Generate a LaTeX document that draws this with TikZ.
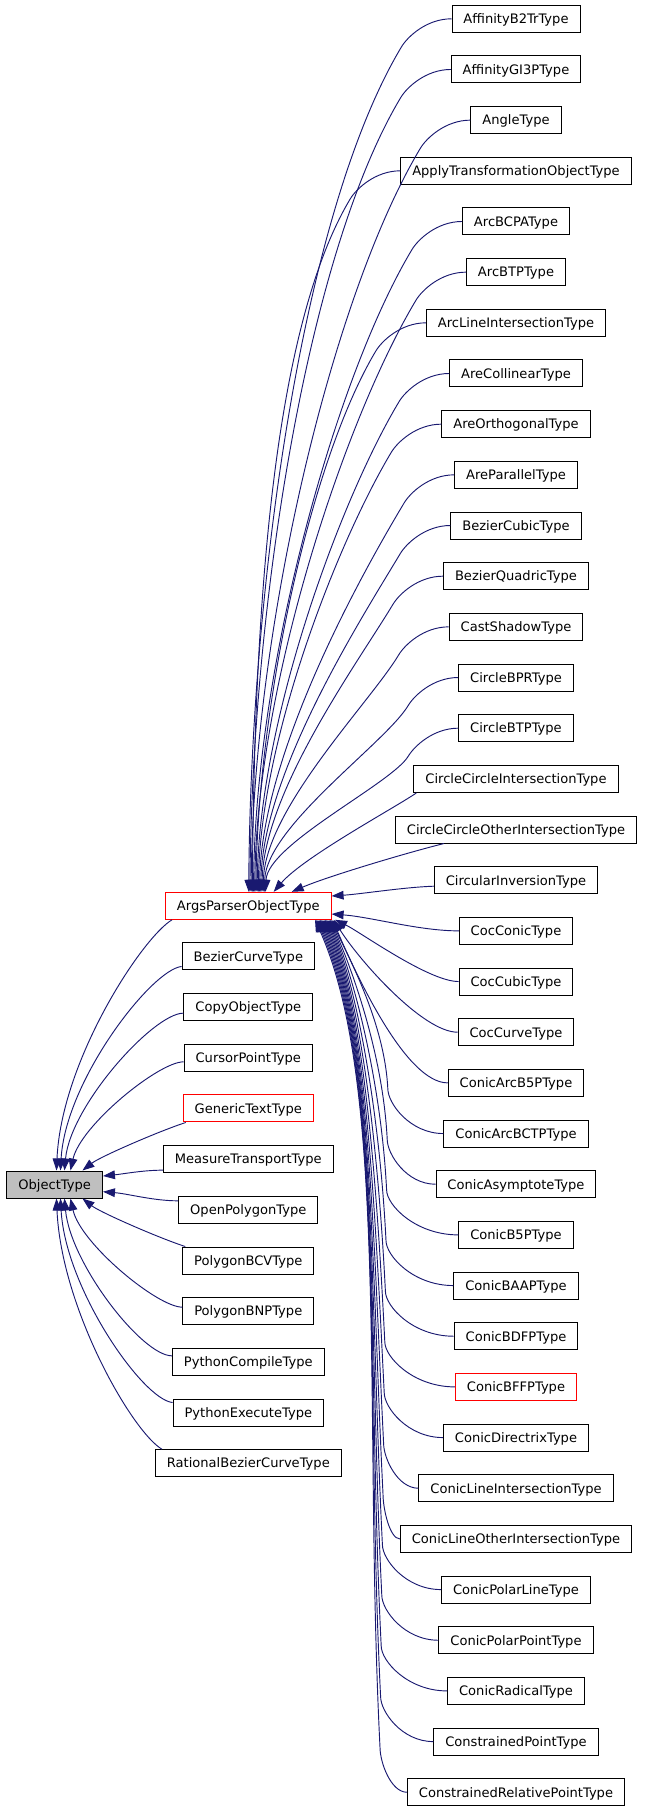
\documentclass[tikz,border=0pt]{standalone}
\usepackage{fontspec}
\setmainfont{DejaVu Sans}
\usetikzlibrary{calc,arrows.meta}
\definecolor{edgeblue}{HTML}{191970}
\definecolor{boxgray}{HTML}{BFBFBF}
\begin{document}
\begin{tikzpicture}[x=0.75pt,y=-0.75pt,
  box/.style={draw=#1,line width=0.75pt,minimum height=20.25pt,inner xsep=8.6pt,inner ysep=0pt,
    font=\fontsize{9.8}{11}\selectfont,text height=7.2pt,text depth=0pt},
  box/.default=black,
  edge/.style={draw=edgeblue,line width=0.7pt,-{Triangle[length=9pt,width=6.5pt]}}]
\useasboundingbox (0,0) rectangle (645,1811);

% right column
\foreach \nm/\txt/\col [count=\i from 0] in {
 affb2tr/AffinityB2TrType/black, affgi3p/AffinityGI3PType/black, angle/AngleType/black,
 applytr/ApplyTransformationObjectType/black, arcbcpa/ArcBCPAType/black, arcbtp/ArcBTPType/black,
 arcline/ArcLineIntersectionType/black, arecoll/AreCollinearType/black, areortho/AreOrthogonalType/black,
 arepar/AreParallelType/black, bezcubic/BezierCubicType/black, bezquad/BezierQuadricType/black,
 castshadow/CastShadowType/black, circbpr/CircleBPRType/black, circbtp/CircleBTPType/black,
 ccinter/CircleCircleIntersectionType/black, ccother/CircleCircleOtherIntersectionType/black,
 circinv/CircularInversionType/black, cocconic/CocConicType/black, coccubic/CocCubicType/black,
 coccurve/CocCurveType/black, conarcbfp/ConicArcB5PType/black, conarcbctp/ConicArcBCTPType/black,
 conasym/ConicAsymptoteType/black, conbfp/ConicB5PType/black, conbaap/ConicBAAPType/black,
 conbdfp/ConicBDFPType/black, conbffp/ConicBFFPType/red, condir/ConicDirectrixType/black,
 conline/ConicLineIntersectionType/black, conlineother/ConicLineOtherIntersectionType/black,
 conpolline/ConicPolarLineType/black, conpolpt/ConicPolarPointType/black, conrad/ConicRadicalType/black,
 constpt/ConstrainedPointType/black, constrel/ConstrainedRelativePointType/black}
  \node[box=\col] (\nm) at (516,{18.8+50.67*\i}) {\txt};

% middle column
\foreach \nm/\txt/\col [count=\i from 0] in {
 args/ArgsParserObjectType/red, bezcurve/BezierCurveType/black, copyobj/CopyObjectType/black,
 cursorpt/CursorPointType/black, generictext/GenericTextType/red, measure/MeasureTransportType/black,
 openpoly/OpenPolygonType/black, polybcv/PolygonBCVType/black, polybnp/PolygonBNPType/black,
 pycompile/PythonCompileType/black, pyexec/PythonExecuteType/black, ratbez/RationalBezierCurveType/black}
  \node[box=\col] (\nm) at (248.3,{905.8+50.67*\i}) {\txt};

\node[box,fill=boxgray] (obj) at (54.7,1184.5) {ObjectType};

% ---- edges into ArgsParserObjectType, top side
\foreach \nm [count=\i from 0] in {affb2tr,affgi3p,angle,applytr,arcbcpa,arcbtp,arcline,arecoll,
  areortho,arepar,bezcubic,bezquad,castshadow,circbpr,circbtp} {
  \pgfmathsetmacro\dd{892.3-(18.8+50.67*\i+28)}
  \pgfmathsetmacro\kk{0.2*\dd}
  \pgfmathsetmacro\kx{-0.6*\kk}
  \pgfmathsetmacro\hh{-0.35*\dd}
  \pgfmathsetmacro\txx{83.7+1.2*\i}
  \coordinate (m) at ($(\nm.west)+(-50,28)$);
  \coordinate (e) at ($(args.north west)+(\txx,0)$);
  \draw[edge] (\nm.west) .. controls ($(\nm.west)+(-25,0)$) and ($(m)+(6,-10)$) .. (m)
     .. controls ($(m)+(\kx,\kk)$) and ($(e)+(2,\hh)$) .. (e);
}
\coordinate (e15) at ($(args.north west)+(108.7,0)$);
\draw[edge] ($(ccinter.south west)+(3,0)$) .. controls ($(ccinter.south west)+(-17,14)$) and ($(e15)+(30,-35)$) .. (e15);
\coordinate (e16) at ($(args.north west)+(126.7,0)$);
\draw[edge] ($(ccother.south west)+(49,0)$) .. controls ($(ccother.south west)+(9,10)$) and ($(e16)+(35,-15)$) .. (e16);

% right side
\coordinate (e17) at ($(args.east)+(0,-9.8)$);
\draw[edge] ($(circinv.west)+(0,6)$) .. controls ($(circinv.west)+(-30,7)$) and ($(e17)+(30,-2)$) .. (e17);
\coordinate (e18) at ($(args.east)+(0,8.2)$);
\draw[edge] (cocconic.west) .. controls ($(cocconic.west)+(-40,0)$) and ($(e18)+(40,3)$) .. (e18);

% bottom side
\coordinate (e19) at ($(args.south west)+(170,0)$);
\draw[edge] (coccubic.west) .. controls ($(coccubic.west)+(-30,0)$) and ($(e19)+(25,12)$) .. (e19);
\coordinate (e20) at ($(args.south west)+(168.75,0)$);
\draw[edge] (coccurve.west) .. controls ($(coccurve.west)+(-35,0)$) and ($(e20)+(25,40)$) .. (e20);
\coordinate (e21) at ($(args.south west)+(167.5,0)$);
\draw[edge] (conarcbfp.west) .. controls ($(conarcbfp.west)+(-40,0)$) and ($(e21)+(28,65)$) .. (e21);
\foreach \nm [count=\i from 22] in {conarcbctp,conasym,conbfp,conbaap,conbdfp,conbffp,condir,
  conline,conlineother,conpolline,conpolpt,conrad,constpt,constrel} {
  \pgfmathsetmacro\ys{18.8+50.67*\i}
  \pgfmathsetmacro\my{\ys-45}
  \pgfmathsetmacro\mx{380+0.6*(35-\i)}
  \pgfmathsetmacro\dd{\my-919.3}
  \pgfmathsetmacro\kk{-0.4*\dd}
  \pgfmathsetmacro\kx{-0.02*\dd}
  \pgfmathsetmacro\hh{0.2*\dd}
  \pgfmathsetmacro\hx{0.09*\dd}
  \pgfmathsetmacro\txx{170-1.25*(\i-19)}
  \coordinate (m) at (\mx,\my);
  \coordinate (e) at ($(args.south west)+(\txx,0)$);
  \draw[edge] (\nm.west) .. controls ($(\nm.west)!0.6!(m |- \nm.west)$) and ($(m)+(0,15)$) .. (m)
     .. controls ($(m)+(\kx,\kk)$) and ($(e)+(\hx,\hh)$) .. (e);
}

% ---- edges into ObjectType
\coordinate (o0) at ($(obj.north west)+(50,0)$);
\draw[edge] ($(args.south west)+(7,0)$) .. controls ($(args.south west)+(-23,18)$) and ($(o0)+(5,-110)$) .. (o0);
\coordinate (o1) at ($(obj.north west)+(54,0)$);
\draw[edge] ($(bezcurve.west)+(0,10)$) .. controls ($(bezcurve.west)+(-30,13)$) and ($(o1)+(5,-90)$) .. (o1);
\coordinate (o2) at ($(obj.north west)+(58,0)$);
\draw[edge] ($(copyobj.west)+(0,6)$) .. controls ($(copyobj.west)+(-30,6)$) and ($(o2)+(6,-65)$) .. (o2);
\coordinate (o3) at ($(obj.north west)+(64,0)$);
\draw[edge] ($(cursorpt.west)+(0,4)$) .. controls ($(cursorpt.west)+(-25,4)$) and ($(o3)+(10,-45)$) .. (o3);
\coordinate (o4) at ($(obj.north west)+(76,0)$);
\draw[edge] ($(generictext.south west)+(3,0)$) .. controls ($(generictext.south west)+(-22,8)$) and ($(o4)+(18,-14)$) .. (o4);
\coordinate (o5) at ($(obj.east)+(0,-8.5)$);
\draw[edge] ($(measure.west)+(0,11)$) .. controls ($(measure.west)+(-20,11)$) and ($(o5)+(20,-2)$) .. (o5);
\coordinate (o6) at ($(obj.east)+(0,7.2)$);
\draw[edge] ($(openpoly.west)+(0,-9)$) .. controls ($(openpoly.west)+(-25,-9)$) and ($(o6)+(25,2)$) .. (o6);
\coordinate (o7) at ($(obj.south west)+(76,0)$);
\draw[edge] ($(polybcv.north west)+(3,0)$) .. controls ($(polybcv.north west)+(-22,-8)$) and ($(o7)+(18,14)$) .. (o7);
\coordinate (o8) at ($(obj.south west)+(64,0)$);
\draw[edge] ($(polybnp.west)+(0,-4)$) .. controls ($(polybnp.west)+(-25,-4)$) and ($(o8)+(10,45)$) .. (o8);
\coordinate (o9) at ($(obj.south west)+(58,0)$);
\draw[edge] ($(pycompile.west)+(0,-6)$) .. controls ($(pycompile.west)+(-30,-6)$) and ($(o9)+(6,65)$) .. (o9);
\coordinate (o10) at ($(obj.south west)+(54,0)$);
\draw[edge] ($(pyexec.west)+(0,-10)$) .. controls ($(pyexec.west)+(-30,-13)$) and ($(o10)+(5,90)$) .. (o10);
\coordinate (o11) at ($(obj.south west)+(50,0)$);
\draw[edge] ($(ratbez.north west)+(7,0)$) .. controls ($(ratbez.north west)+(-23,-18)$) and ($(o11)+(5,110)$) .. (o11);
\end{tikzpicture}
\end{document}
